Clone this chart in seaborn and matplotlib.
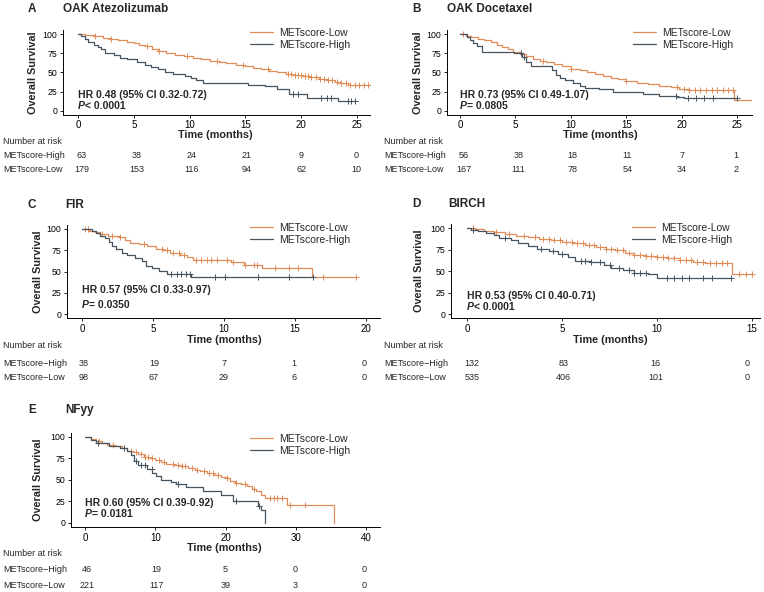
import numpy as np
import seaborn as sns
import matplotlib
matplotlib.use('Agg')
import matplotlib.pyplot as plt
import matplotlib.transforms as mtransforms

# ---- data ----
# A: OAK Atezolizumab
a_low_t = [0, 0.6, 1.4, 2.2, 2.9, 3.6, 4.4, 5.0, 5.5, 6.0, 6.6, 7.2, 7.9, 8.7, 9.5, 10.3, 11.0, 11.8, 12.6, 13.3,
           14.2, 15.0, 15.7, 16.4, 17.1, 17.8, 18.6, 19.3, 20.1, 20.8, 21.6, 22.3, 23.0, 23.6, 24.2, 26.2]
a_low_s = [100, 99, 97, 95, 93, 92, 90, 88, 86, 84, 81, 78, 75, 73, 71, 69, 67, 65, 64, 62,
           60, 58, 56, 54, 52, 50, 48, 47, 45, 44, 42, 40, 38, 36, 34, 34]
a_high_t = [0, 0.3, 0.6, 0.9, 1.4, 1.8, 2.1, 2.4, 3.2, 3.8, 4.4, 5.3, 6.0, 6.5, 7.2, 7.8, 8.5, 9.6, 10.1, 10.6,
            11.2, 13.9, 15.2, 16.8, 17.8, 18.9, 20.5, 23.3, 24.8]
a_high_s = [100, 97, 93, 90, 86, 83, 80, 75, 73, 69, 67, 64, 60, 57, 54, 51, 48, 46, 43, 40,
            37, 36, 34, 32, 29, 22, 17, 13, 13]
a_low_cens = [1.5, 3.0, 6.2, 7.3, 9.8, 12.5, 14.8, 17.0, 18.8, 19.1, 19.4, 19.7, 20.0, 20.3, 20.6, 20.9, 21.3,
              21.7, 22.0, 22.4, 22.8, 23.2, 23.6, 24.0, 24.4, 24.8, 25.2, 25.6, 26.0]
a_high_cens = [19.3, 19.7, 21.8, 22.3, 22.7, 24.2, 24.5, 24.8]
a_risk_t = [0, 5, 10, 15, 20, 25]
a_risk_high = [63, 38, 24, 21, 9, 0]
a_risk_low = [179, 153, 116, 94, 62, 10]

# B: OAK Docetaxel
b_low_t = [0, 0.5, 1.0, 1.6, 2.2, 2.8, 3.3, 3.8, 4.3, 4.8, 5.4, 6.0, 6.6, 7.2, 7.8, 8.5, 9.2, 10.0, 10.8, 11.5,
           12.2, 12.9, 13.6, 14.3, 15.0, 16.0, 17.0, 18.0, 19.0, 19.8, 20.6, 24.75, 26.3]
b_low_s = [100, 98, 96, 94, 92, 89, 86, 83, 80, 77, 74, 71, 68, 65, 63, 61, 58, 55, 53, 50,
           48, 45, 43, 41, 39, 37, 35, 33, 31, 29, 27, 14, 14]
b_high_t = [0, 0.6, 0.9, 1.2, 1.5, 2.0, 4.9, 5.6, 6.0, 6.4, 8.3, 8.7, 9.0, 9.5, 10.2, 10.8, 11.3, 12.5, 13.8,
            16.5, 18.0, 19.6, 20.2, 25.0]
b_high_s = [100, 96, 92, 88, 84, 77, 75, 70, 64, 58, 53, 47, 43, 40, 36, 32, 30, 28, 25,
            22, 20, 18, 17, 17]
b_low_cens = [0.3, 7.5, 10.0, 15.0, 19.6, 20.2, 20.7, 21.2, 21.7, 22.2, 22.7, 23.2, 23.7, 24.2, 24.6]
b_high_cens = [5.5, 5.8, 19.5, 20.6, 21.3, 22.0, 22.8, 25.0]
b_risk_t = [0, 5, 10, 15, 20, 25]
b_risk_high = [56, 38, 18, 11, 7, 1]
b_risk_low = [167, 111, 78, 54, 34, 2]

# C: FIR
c_low_t = [0, 0.5, 0.9, 1.3, 1.8, 2.6, 3.0, 3.4, 4.0, 4.6, 5.2, 5.7, 6.2, 6.9, 7.4, 7.8, 9.4, 10.5, 11.4, 12.7, 16.2, 19.3]
c_low_s = [100, 98, 96, 94, 92, 90, 87, 84, 82, 80, 77, 75, 72, 69, 67, 64, 63, 61, 58, 54, 43, 43]
c_high_t = [0, 0.7, 1.0, 1.3, 1.6, 1.9, 2.1, 2.4, 2.8, 3.2, 3.7, 4.2, 4.5, 4.9, 5.4, 6.0, 7.7, 16.3]
c_high_s = [100, 98, 95, 92, 89, 85, 80, 76, 72, 69, 66, 62, 57, 54, 51, 47, 43, 43]
c_low_cens = [0.2, 0.4, 1.4, 2.1, 2.7, 4.4, 5.6, 6.0, 6.4, 6.8, 7.2, 8.0, 8.4, 8.8, 9.1, 9.5, 10.2, 10.6, 11.5,
              12.1, 12.3, 13.6, 14.6, 15.2, 17.0, 19.3]
c_high_cens = [6.3, 6.7, 7.0, 7.3, 7.6, 9.4, 10.1, 12.4, 14.6, 16.3]
c_risk_t = [0, 5, 10, 15, 20]
c_risk_high = [38, 19, 7, 1, 0]
c_risk_low = [98, 67, 29, 6, 0]

# D: BIRCH
d_low_t = [0, 0.4, 0.9, 1.4, 2.0, 2.6, 3.2, 3.8, 4.4, 5.0, 5.6, 6.2, 6.8, 7.3, 7.8, 8.3, 8.8, 9.4, 10.0, 10.6,
           11.2, 11.9, 12.5, 13.95, 15.0]
d_low_s = [100, 99, 97, 95, 93, 91, 89, 87, 86, 84, 82, 80, 78, 76, 74, 71, 69, 68, 66, 65,
           63, 61, 59, 47, 47]
d_high_t = [0, 0.2, 0.6, 1.0, 1.4, 1.7, 2.3, 2.7, 3.2, 3.7, 4.3, 4.8, 5.3, 5.7, 6.5, 7.2, 7.6, 8.2, 8.8, 9.5, 10.0, 13.9]
d_high_s = [100, 98, 96, 94, 92, 88, 86, 82, 79, 76, 73, 70, 66, 62, 60, 57, 53, 51, 48, 46, 42, 42]
d_low_cens = [0.3, 1.5, 2.2, 3.0, 3.6, 4.0, 4.3, 4.6, 4.9, 5.2, 5.5, 5.8, 6.1, 6.4, 6.7, 7.0, 7.3, 7.6, 7.9, 8.2,
              8.5, 8.8, 9.1, 9.4, 9.7, 10.0, 10.3, 10.6, 10.9, 11.2, 11.5, 11.8, 12.1, 12.4, 12.8, 13.1, 13.4,
              13.7, 14.3, 14.7, 15.0]
d_high_cens = [0.3, 2.0, 3.9, 4.5, 5.0, 6.0, 6.2, 6.5, 7.0, 7.5, 8.0, 8.5, 8.8, 9.1, 9.4, 10.5, 10.9, 11.3, 11.7,
               12.4, 12.9, 13.9]
d_risk_t = [0, 5, 10, 15]
d_risk_high = [132, 83, 16, 0]
d_risk_low = [535, 406, 101, 0]

# E: NFyy
e_low_t = [0, 0.8, 1.6, 2.4, 3.2, 4.2, 5.2, 6.0, 6.8, 7.6, 8.4, 9.2, 10.0, 10.8, 11.6, 12.6, 13.6, 14.6, 15.6, 16.4,
           17.4, 18.4, 19.3, 20.0, 20.7, 21.4, 22.2, 23.0, 23.8, 24.4, 25.0, 25.6, 28.8, 35.5]
e_low_s = [100, 98, 95, 93, 91, 89, 87, 84, 82, 80, 77, 75, 73, 71, 69, 68, 66, 64, 62, 60,
           58, 56, 54, 52, 49, 47, 45, 43, 40, 37, 33, 29, 21, 0]
e_high_t = [0, 0.8, 1.6, 3.4, 5.0, 6.0, 6.5, 7.0, 7.6, 8.8, 9.6, 10.1, 10.8, 12.2, 13.0, 14.4, 16.8, 19.4, 21.0,
            24.6, 25.1, 25.6]
e_high_s = [100, 97, 93, 89, 87, 84, 79, 72, 67, 63, 58, 55, 50, 48, 45, 42, 37, 32, 25, 20, 15, 0]
e_low_cens = [2.0, 4.0, 5.5, 6.5, 7.3, 8.0, 8.6, 9.0, 9.5, 10.5, 11.2, 12.5, 13.2, 13.8, 14.2, 15.2, 16.0, 17.0,
              17.6, 18.2, 19.0, 20.2, 21.5, 22.8, 24.0, 26.3, 26.9, 27.4, 28.0, 29.2, 31.3]
e_high_cens = [1.8, 5.5, 7.3, 8.0, 8.5, 9.5, 13.3, 21.5, 24.8]
e_risk_t = [0, 10, 20, 30, 40]
e_risk_high = [46, 19, 5, 0, 0]
e_risk_low = [221, 117, 39, 3, 0]

C_LOW = '#E08C58'
C_HIGH = '#46545F'
W, H = 764, 592

sns.set_style('ticks')
plt.rcParams['font.family'] = ['Liberation Sans', 'DejaVu Sans']

fig = plt.figure(figsize=(W / 100, H / 100), dpi=100)
PX = mtransforms.Affine2D().scale(1 / W, -1 / H).translate(0, 1) + fig.transFigure


def px_axes(l, t, r, b):
    return fig.add_axes([l / W, 1 - b / H, (r - l) / W, (b - t) / H])


def lim_from(l, r, p0, p1, tmax):
    s = (p1 - p0) / tmax
    return (l - p0) / s, (r - p0) / s


def step_value(t, s, ct):
    idx = np.searchsorted(t, ct, side='right') - 1
    return np.asarray(s)[idx]


def km_panel(lay, low, high, low_cens, high_cens, risk_t, risk_high, risk_low, hr, ptxt, dash):
    l, r, y0, y100 = lay['l'], lay['r'], lay['y0'], lay['y100']
    u = (y0 - y100) / 100
    ax = px_axes(l, y100 - 5 * u, r, y0 + 5 * u)
    for (t, s), cens, col, lab in [(low, low_cens, C_LOW, 'METscore-Low'),
                                   (high, high_cens, C_HIGH, 'METscore-High')]:
        sns.lineplot(x=t, y=s, drawstyle='steps-post', estimator=None, sort=False,
                     color=col, lw=0.9, label=lab, ax=ax)
        ax.plot(cens, step_value(t, s, cens), ls='none', marker='+', ms=3.8, mew=0.7, color=col)
    ax.set_xlim(*lim_from(l, r, lay['x0'], lay['x1'], lay['tmax']))
    ax.set_ylim(-5, 105)
    ax.set_xticks(risk_t)
    ax.set_yticks([0, 25, 50, 75, 100])
    sns.despine(ax=ax)
    for sp in ax.spines.values():
        sp.set_linewidth(0.7)
        sp.set_color('black')
    ax.tick_params(length=2.5, width=0.6, pad=1.5, colors='black')
    ax.tick_params(axis='x', labelsize=7)
    ax.tick_params(axis='y', labelsize=6.3)
    ax.set_xlabel('Time (months)', fontsize=7.8, fontweight='bold')
    ax.set_ylabel('Overall Survival', fontsize=7.8, fontweight='bold')
    ax.xaxis.set_label_coords(lay['xlab'][0], lay['xlab'][1], transform=PX)
    ax.xaxis.label.set_va('center')
    ax.yaxis.set_label_coords(lay['ylab'], (lay['y100'] + lay['y0']) / 2, transform=PX)
    ax.yaxis.label.set_va('center')
    ax.legend(loc='upper left', bbox_to_anchor=lay['leg'], bbox_transform=PX, frameon=False,
              borderpad=0, borderaxespad=0, handlelength=2.2, handletextpad=0.6,
              labelspacing=0.2, fontsize=7.5)

    ax.text(0, hr[0], hr[1], fontsize=7.5, fontweight='bold', ha='left', va='center')
    ax.text(0, ptxt[0], 'P', fontsize=7.5, fontweight='bold', style='italic', ha='left', va='center')
    ax.text(0, ptxt[0], ptxt[1], fontsize=7.5, fontweight='bold', ha='left', va='center',
            transform=mtransforms.offset_copy(ax.transData, fig=fig, x=5.2, units='points'))

    # panel letter and title
    fig.text(lay['letter'][1], lay['letter'][2], lay['letter'][0], transform=PX, fontsize=8.5,
             fontweight='bold', va='center', ha='left')
    fig.text(lay['title'][1], lay['letter'][2], lay['title'][0], transform=PX, fontsize=8.5,
             fontweight='bold', va='center', ha='left')

    # number at risk table
    tab = px_axes(l, lay['rows'][1] - 5, r, lay['rows'][2] + 5)
    tab.axis('off')
    tab.set_xlim(*lim_from(l, r, lay['tab'][0], lay['tab'][1], lay['tmax']))
    tr = mtransforms.blended_transform_factory(tab.transData, PX)
    fig.text(lay['tabx'], lay['rows'][0], 'Number at risk', transform=PX, fontsize=6.5, va='center')
    for name, row, yy in [('METscore' + dash + 'High', risk_high, lay['rows'][1]),
                          ('METscore' + dash + 'Low', risk_low, lay['rows'][2])]:
        fig.text(lay['tabx'], yy, name, transform=PX, fontsize=6.5, va='center')
        for t, n in zip(risk_t, row):
            tab.text(t, yy, str(n), transform=tr, fontsize=6.5, ha='center', va='center')
    return ax


lay_a = dict(l=63, r=370, y0=111, y100=34, x0=78, x1=357, tmax=25, xlab=(215, 135), ylab=33,
             leg=(250, 28), letter=('A', 28, 9), title=('OAK Atezolizumab', 63), tab=(82, 356),
             rows=(141, 156, 170), tabx=3)
lay_b = dict(l=447, r=752, y0=111, y100=34, x0=460, x1=737, tmax=25, xlab=(600, 135), ylab=418,
             leg=(633, 28), letter=('B', 412, 9), title=('OAK Docetaxel', 447), tab=(464, 736),
             rows=(141, 156, 170), tabx=384)
lay_c = dict(l=67, r=380, y0=314, y100=229, x0=82, x1=366, tmax=20, xlab=(224, 340), ylab=38,
             leg=(250, 223), letter=('C', 28, 205), title=('FIR', 65), tab=(84, 364),
             rows=(345, 363, 378), tabx=3)
lay_d = dict(l=451, r=760, y0=314, y100=228, x0=467, x1=752, tmax=15, xlab=(610, 340), ylab=419,
             leg=(632, 223), letter=('D', 412, 204), title=('BIRCH', 448), tab=(472, 747),
             rows=(346, 363, 378), tabx=384)
lay_e = dict(l=71, r=380, y0=523, y100=437, x0=85, x1=366, tmax=40, xlab=(224, 548), ylab=38,
             leg=(250, 434), letter=('E', 28, 410), title=('NFyy', 65), tab=(87, 364),
             rows=(553, 570, 586), tabx=3)

km_panel(lay_a, (a_low_t, a_low_s), (a_high_t, a_high_s), a_low_cens, a_high_cens,
         a_risk_t, a_risk_high, a_risk_low, (21, 'HR 0.48 (95% CI 0.32-0.72)'), (6.5, '< 0.0001'), '-')
km_panel(lay_b, (b_low_t, b_low_s), (b_high_t, b_high_s), b_low_cens, b_high_cens,
         b_risk_t, b_risk_high, b_risk_low, (21, 'HR 0.73 (95% CI 0.49-1.07)'), (6.5, '= 0.0805'), '-')
km_panel(lay_c, (c_low_t, c_low_s), (c_high_t, c_high_s), c_low_cens, c_high_cens,
         c_risk_t, c_risk_high, c_risk_low, (28, 'HR 0.57 (95% CI 0.33-0.97)'), (10.6, '= 0.0350'), '\u2212')
km_panel(lay_d, (d_low_t, d_low_s), (d_high_t, d_high_s), d_low_cens, d_high_cens,
         d_risk_t, d_risk_high, d_risk_low, (21, 'HR 0.53 (95% CI 0.40-0.71)'), (8, '< 0.0001'), '\u2212')
km_panel(lay_e, (e_low_t, e_low_s), (e_high_t, e_high_s), e_low_cens, e_high_cens,
         e_risk_t, e_risk_high, e_risk_low, (23, 'HR 0.60 (95% CI 0.39-0.92)'), (10.5, '= 0.0181'), '\u2212')

fig.savefig('out.png', dpi=100)
